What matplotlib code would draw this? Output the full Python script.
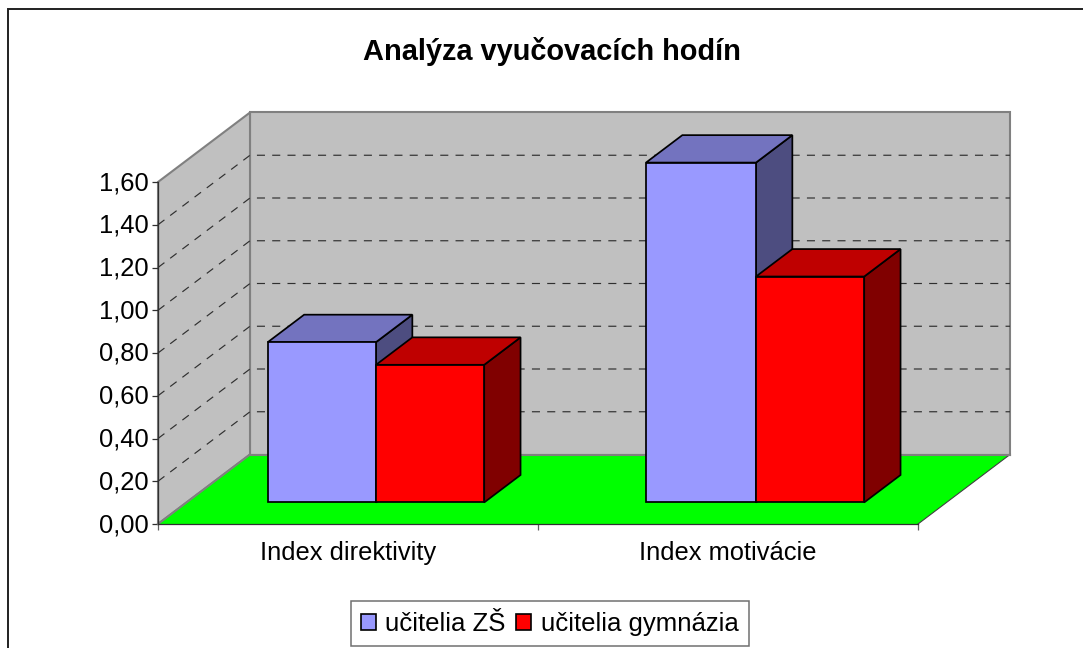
import matplotlib
matplotlib.use("Agg")
import matplotlib.pyplot as plt
from matplotlib.patches import Polygon, Patch, Rectangle
from matplotlib.transforms import ScaledTranslation

plt.rcParams['font.family'] = ['Liberation Sans', 'DejaVu Sans']
plt.rcParams['lines.scale_dashes'] = False

title = "Analýza vyučovacích hodín"
categories = ["Index direktivity", "Index motivácie"]
series_names = ["učitelia ZŠ", "učitelia gymnázia"]
zs_values = [0.75, 1.59]
gym_values = [0.644, 1.057]
y_ticks = [0.0, 0.2, 0.4, 0.6, 0.8, 1.0, 1.2, 1.4, 1.6]
y_labels = ["0,00", "0,20", "0,40", "0,60", "0,80", "1,00", "1,20", "1,40", "1,60"]

W, H = 1083, 648
fig = plt.figure(figsize=(W / 100, H / 100), dpi=100, facecolor="white")
ax = fig.add_axes([158 / W, (H - 524) / H, 760 / W, 342 / H])
ax.set_xlim(0, 2)
ax.set_ylim(0, 1.6)
ax.patch.set_visible(False)

# oblique projection: depth d in 0..1 shifts right and up, in data units
DX, DY = 92 / 380, 69.5 / 213.75


def p(x, v, d=0.0):
    return (x + d * DX, v + d * DY)


def poly(pts, fc, ec, lw, z):
    ax.add_patch(Polygon(pts, closed=True, facecolor=fc, edgecolor=ec, linewidth=lw,
                         joinstyle="miter", zorder=z, clip_on=False))


top = y_ticks[-1]
# walls
poly([p(0, 0, 1), p(2, 0, 1), p(2, top, 1), p(0, top, 1)], "#C0C0C0", "#808080", 1.5, 1)
poly([p(0, 0), p(0, 0, 1), p(0, top, 1), p(0, top)], "#C0C0C0", "#808080", 1.5, 1)
# floor
poly([p(0, 0), p(2, 0), p(2, 0, 1), p(0, 0, 1)], "#00FF00", "none", 0, 2)
ax.plot(*zip(p(2, 0), p(2, 0, 1)), color="#404040", lw=0.8, zorder=2.5, clip_on=False)
ax.plot(*zip(p(0, 0), p(0, 0, 1)), color="#808080", lw=1.5, zorder=2.5, clip_on=False)
ax.plot(*zip(p(0, 0, 1), p(2, 0, 1)), color="#808080", lw=1.5, zorder=2.5, clip_on=False)

# gridlines
for t in y_ticks[1:-1]:
    ax.plot(*zip(p(0, t), p(0, t, 1), p(2, t, 1)), color="#303030", lw=0.85,
            linestyle=(0, (5.8, 5.2)), zorder=1.5, clip_on=False)


def bar(x0, x1, v, front, topc, side, z):
    d0, d1 = 0.31, 0.705
    lw = 1.25
    poly([p(x1, 0, d0), p(x1, 0, d1), p(x1, v, d1), p(x1, v, d0)], side, "black", lw, z)
    poly([p(x0, v, d0), p(x1, v, d0), p(x1, v, d1), p(x0, v, d1)], topc, "black", lw, z)
    poly([p(x0, 0, d0), p(x1, 0, d0), p(x1, v, d0), p(x0, v, d0)], front, "black", lw, z + 0.1)


bw = 108.2 / 380
bw_left = [108.2 / 380, 110 / 380]
for i in range(len(categories)):
    c = i + 0.5 + (376 - 158 - 190 - 0.31 * 92) / 380
    bar(c - bw_left[i], c, zs_values[i], "#9999FF", "#7373BF", "#4D4D80", 3 + 2 * i)
    bar(c, c + bw, gym_values[i], "#FF0000", "#BF0000", "#800000", 4 + 2 * i)

# axes
for s in ["top", "right"]:
    ax.spines[s].set_visible(False)
ax.spines["left"].set_color("#303030")
ax.spines["bottom"].set_color("#303030")
ax.spines["left"].set_linewidth(0.9)
ax.spines["bottom"].set_linewidth(0.9)
ax.spines["left"].set_zorder(20)
ax.spines["bottom"].set_zorder(20)
ax.set_yticks(y_ticks)
ax.set_yticklabels(y_labels, fontsize=18.4)
ax.set_xticks([0, 1, 2])
ax.set_xticklabels([])
ax.set_xticks([0.5, 1.5], minor=True)
ax.set_xticklabels(categories, minor=True, fontsize=18.4)
ax.tick_params(axis="y", length=4.3, width=0.9, pad=2.5, color="#303030")
ax.tick_params(axis="x", which="major", length=4.3, width=0.9, color="#606060")
ax.tick_params(axis="x", which="minor", length=0, pad=12)
nudge = ScaledTranslation(0, 1.5 / 100, fig.dpi_scale_trans)
for lab in ax.get_yticklabels():
    lab.set_transform(lab.get_transform() + nudge)

# title
fig.text(552 / W, 1 - 51 / H, title, ha="center", va="center", fontsize=20.9, fontweight="bold")

# outer frame: only left and top edges fall inside the picture
fig.add_artist(Rectangle((8 / W, -0.01), 1.05, 1.01 - 9 / H, transform=fig.transFigure,
                         facecolor="none", edgecolor="#202020", linewidth=1.4))

# legend
handles = [Patch(facecolor="#9999FF", edgecolor="black", linewidth=1.2),
           Patch(facecolor="#FF0000", edgecolor="black", linewidth=1.2)]
leg = fig.legend(handles, series_names, loc="center", bbox_to_anchor=(549.7 / W, 1 - 623.7 / H),
                 ncol=2, fontsize=18.5, fancybox=False, framealpha=1, edgecolor="#707070",
                 handlelength=0.58, handleheight=0.58, handletextpad=0.36, columnspacing=0.42,
                 borderpad=0.4, borderaxespad=0)
leg.get_frame().set_linewidth(1.1)

fig.savefig("out.png", dpi=100)
